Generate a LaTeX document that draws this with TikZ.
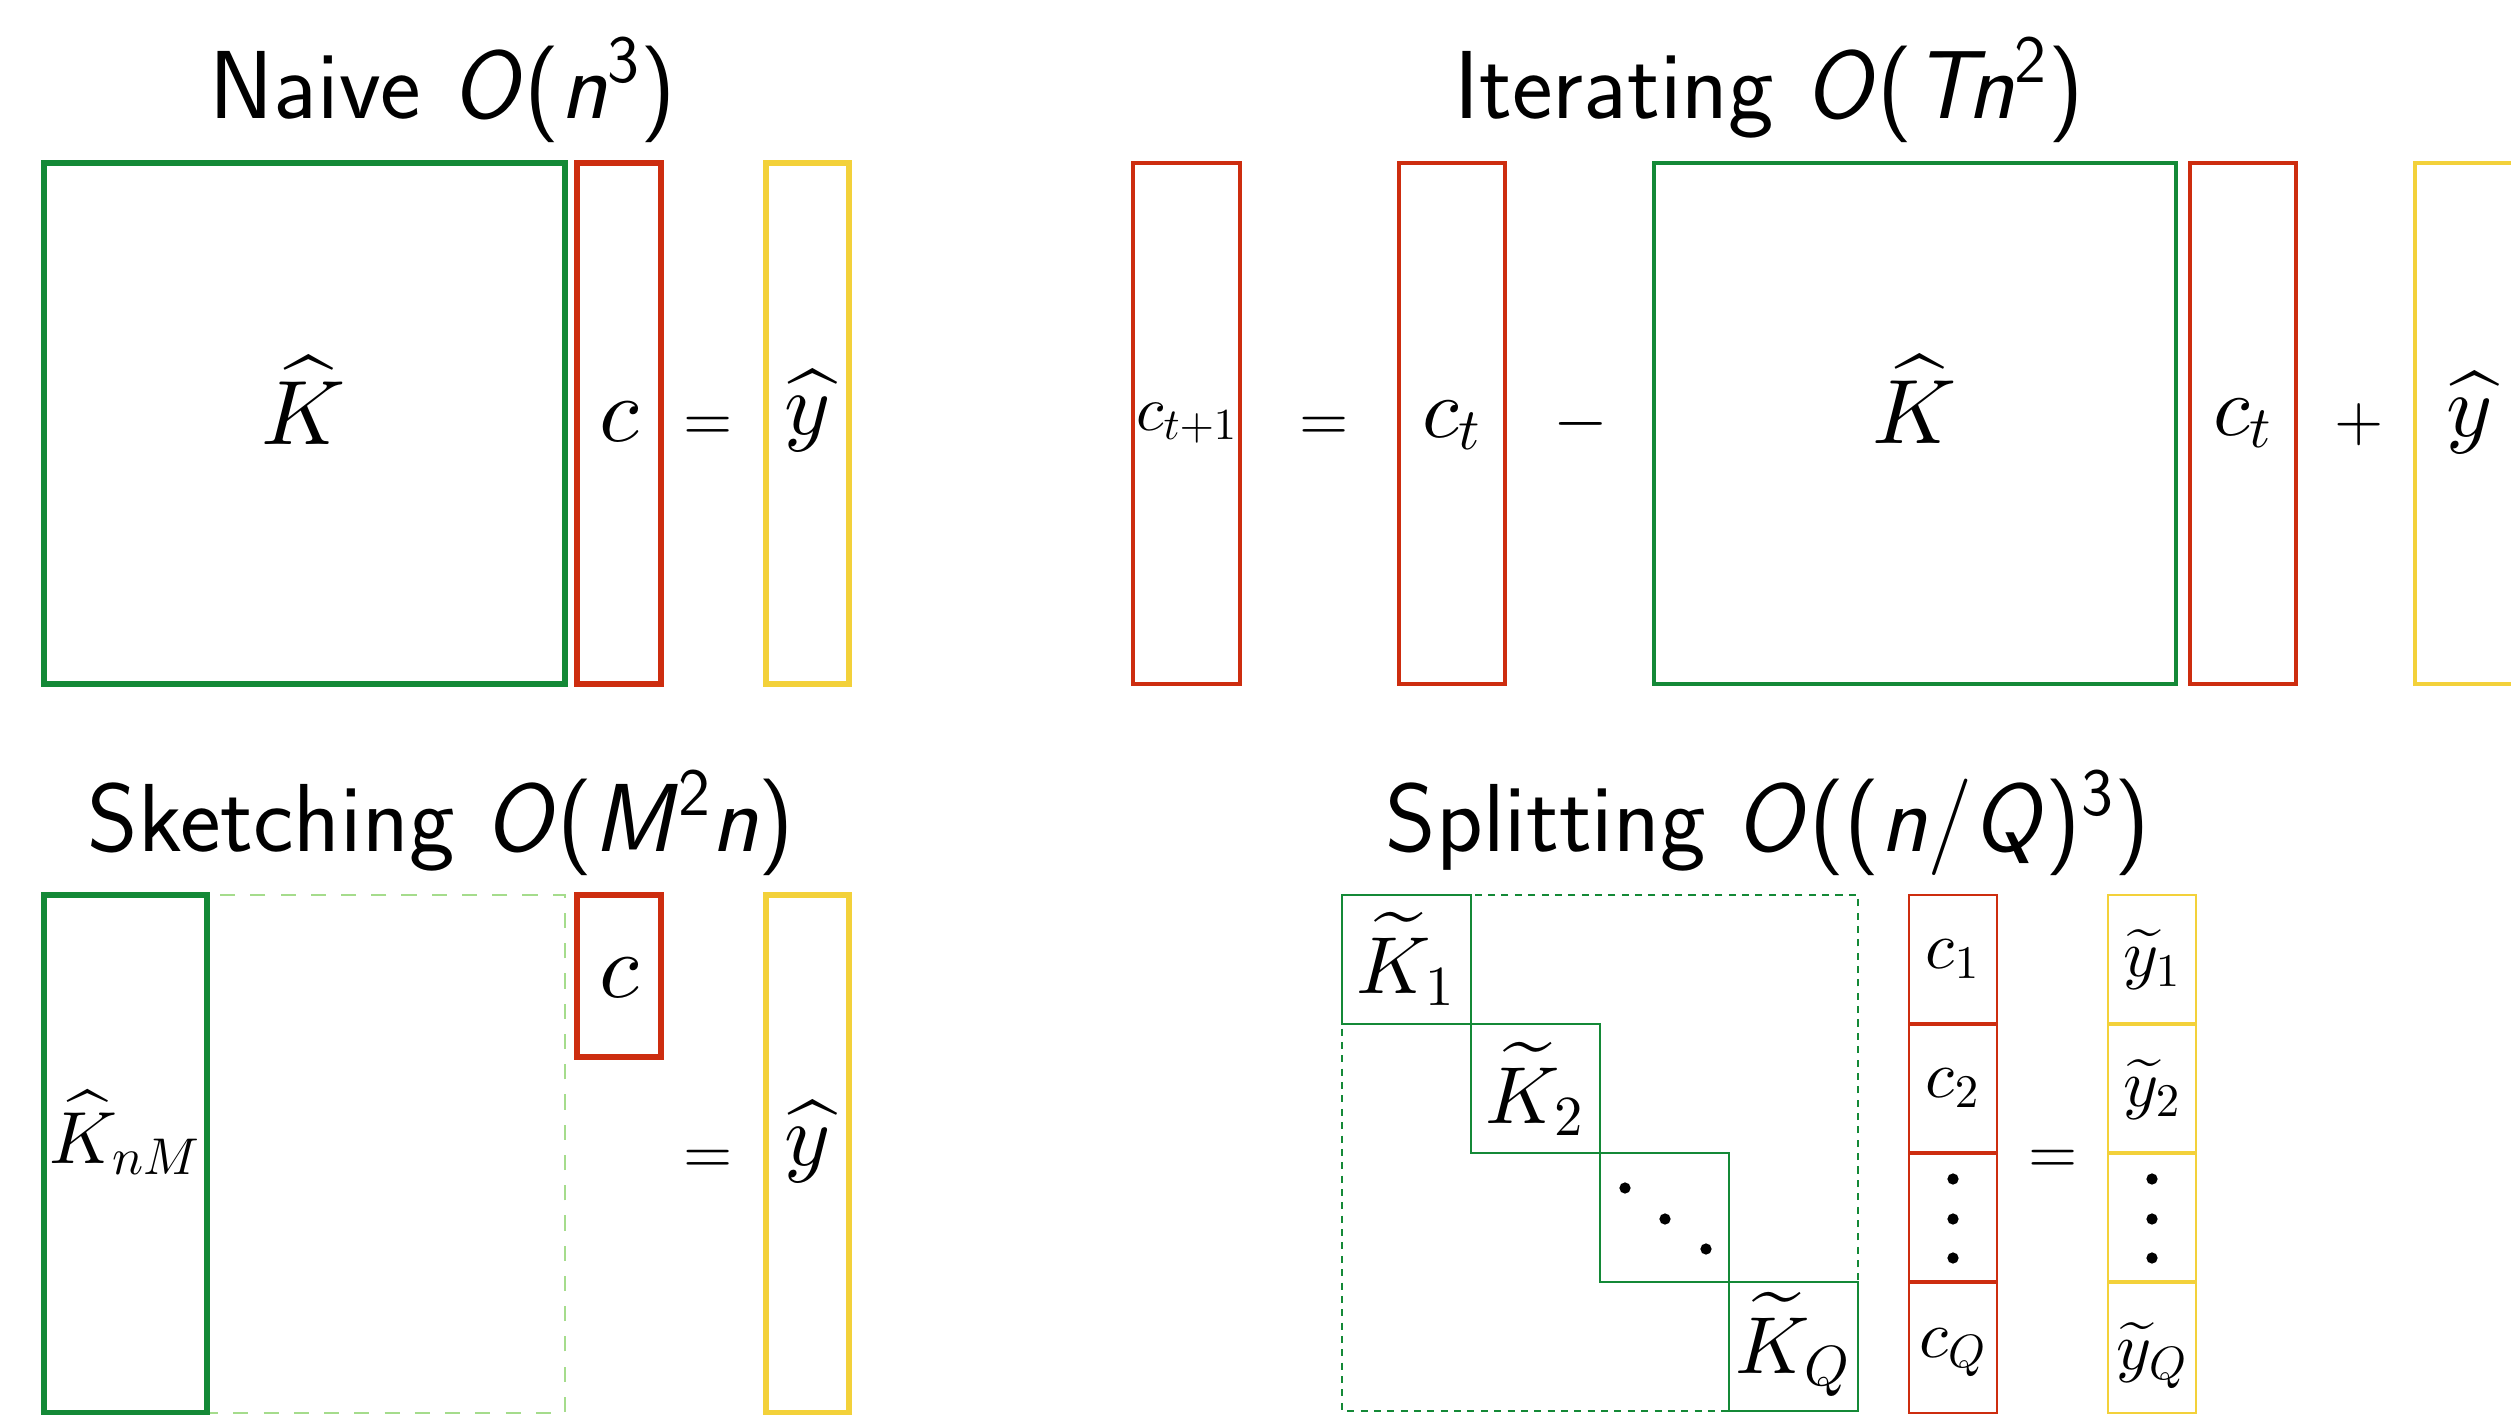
\RequirePackage{fix-cm}
\documentclass[tikz,border=0pt]{standalone}
\usepackage{amsmath}
\DeclareFontFamily{OML}{cmmten}{\skewchar\font=127}
\DeclareFontShape{OML}{cmmten}{m}{it}{<-> cmmi10}{}
\DeclareSymbolFont{letters}{OML}{cmmten}{m}{it}
\DeclareFontFamily{OT1}{cmrten}{\hyphenchar\font=45}
\DeclareFontShape{OT1}{cmrten}{m}{n}{<-> cmr10}{}
\DeclareSymbolFont{operators}{OT1}{cmrten}{m}{n}
\definecolor{kgreen}{RGB}{20,137,55}
\definecolor{kred}{RGB}{205,45,15}
\definecolor{kyellow}{RGB}{243,209,58}
\definecolor{klight}{RGB}{165,220,140}
\newcommand\fsz[1]{\fontsize{#1}{#1}\selectfont}
\tikzset{
  lbl/.style={inner sep=0pt, outer sep=0pt, anchor=base},
  ttl/.style={lbl, font=\fontsize{27.5}{30}\selectfont\sffamily},
  thick naive/.style={line width=1.5pt},
  thin iter/.style={line width=1pt},
  thin split/.style={line width=0.65pt},
  gbox/.style={draw=kgreen},
  rbox/.style={draw=kred},
  ybox/.style={draw=kyellow},
  dotbox/.style={draw=kgreen, line width=0.8pt, dash pattern=on 2pt off 1.8pt},
  dashbox/.style={draw=klight, line width=0.7pt, dash pattern=on 4.3pt off 4.3pt},
  dotmark/.style={fill=black},
}
\begin{document}
\begin{tikzpicture}[x=0.01cm,y=-0.01cm]
\useasboundingbox (0,0) rectangle (2511,1415);
\clip (0,0) rectangle (2511,1415);

% ---------- Naive ----------
\node[ttl] (tnaive) at (443,118) {Naive \textsl{O}(\textsl{n}\textsuperscript{3})};
\draw[gbox, thick naive] (44,163) rectangle (565,684);
\draw[rbox, thick naive] (577,163) rectangle (661,684);
\draw[ybox, thick naive] (766,163) rectangle (849,684);
\node[lbl, font=\fsz{26}] (nK) at (304,444) {$\widehat{K}$};
\node[lbl, font=\fsz{26}] (nc) at (619,441) {$c$};
\node[lbl, font=\fsz{18}] (neq) at (708,440) {$=$};
\node[lbl, font=\fsz{25}] (ny) at (808,434) {$\widehat{y}$};

% ---------- Iterating ----------
\node[ttl] (titer) at (1769,118) {Iterating \textsl{O}(\textsl{Tn}\textsuperscript{2})};
\draw[rbox, thin iter] (1133,163) rectangle (1240,684);
\draw[rbox, thin iter] (1399,163) rectangle (1505,684);
\draw[gbox, thin iter] (1654,163) rectangle (2176,684);
\draw[rbox, thin iter] (2190,163) rectangle (2296,684);
\draw[ybox, thin iter] (2415,163) rectangle (2526,684);
\node[lbl, font=\fsz{18}] (ic1) at (1187,430) {$c_{t+1}$};
\node[lbl, font=\fsz{18}] (ieq) at (1324,440) {$=$};
\node[lbl, font=\fsz{24}] (ic2) at (1452,437) {$c_t$};
\node[lbl, font=\fsz{20}] (iminus) at (1581,441) {$-$};
\node[lbl, font=\fsz{26}] (iK) at (1915,443) {$\widehat{K}$};
\node[lbl, font=\fsz{24}] (ic3) at (2243,435) {$c_t$};
\node[lbl, font=\fsz{18}] (iplus) at (2359,440) {$+$};
\node[lbl, font=\fsz{25}] (iy) at (2470,436) {$\widehat{y}$};

% ---------- Sketching ----------
\node[ttl] (tsketch) at (441,851) {Sketching \textsl{O}(\textsl{M}\textsuperscript{2}\textsl{n})};
\draw[dashbox] (207,895) rectangle (565,1413);
\draw[gbox, thick naive] (44,895) rectangle (207,1413);
\draw[rbox, thick naive] (577,895) rectangle (661,1057);
\draw[ybox, thick naive] (766,895) rectangle (849,1413);
\node[lbl, font=\fsz{21}] (sK) at (125,1163) {$\widehat{K}_{nM}$};
\node[lbl, font=\fsz{26}] (sc) at (619,997) {$c$};
\node[lbl, font=\fsz{18}] (seq) at (708,1173) {$=$};
\node[lbl, font=\fsz{25}] (sy) at (808,1165) {$\widehat{y}$};

% ---------- Splitting ----------
\node[ttl] (tsplit) at (1768,851) {Splitting \textsl{O}((\textsl{n}/\textsl{Q})\textsuperscript{3})};
\draw[dotbox] (1342,895) rectangle (1858,1411);
\draw[gbox, thin split] (1342,895) rectangle (1471,1024);
\draw[gbox, thin split] (1471,1024) rectangle (1600,1153);
\draw[gbox, thin split] (1600,1153) rectangle (1729,1282);
\draw[gbox, thin split] (1729,1282) rectangle (1858,1411);
\node[lbl, font=\fsz{23}] (pK1) at (1406,993) {$\widetilde{K}_1$};
\node[lbl, font=\fsz{23}] (pK2) at (1535,1123) {$\widetilde{K}_2$};
\node[lbl, font=\fsz{23}] (pKQ) at (1793,1373) {$\widetilde{K}_Q$};
\fill[dotmark] (1625,1188) circle[radius=1.6pt];
\fill[dotmark] (1665,1219) circle[radius=1.6pt];
\fill[dotmark] (1706,1249) circle[radius=1.6pt];

\draw[rbox, line width=0.8pt] (1909,895) rectangle (1997,1413);
\draw[rbox, line width=0.9pt] (1909,1024) -- (1997,1024) (1909,1153) -- (1997,1153) (1909,1282) -- (1997,1282);
\draw[ybox, line width=0.8pt] (2108,895) rectangle (2196,1413);
\draw[ybox, line width=0.9pt] (2108,1024) -- (2196,1024) (2108,1153) -- (2196,1153) (2108,1282) -- (2196,1282);
\node[lbl, font=\fsz{19}] (pc1) at (1953,968) {$c_1$};
\node[lbl, font=\fsz{19}] (pc2) at (1953,1097) {$c_2$};
\node[lbl, font=\fsz{19}] (pcQ) at (1953,1357) {$c_Q$};
\foreach \yy in {1179,1219,1258} {
  \fill[dotmark] (1953,\yy) circle[radius=1.6pt];
  \fill[dotmark] (2152,\yy) circle[radius=1.6pt];
}
\node[lbl, font=\fsz{18}] (peq) at (2053,1173) {$=$};
\node[lbl, font=\fsz{19}] (py1) at (2152,976) {$\widetilde{y}_1$};
\node[lbl, font=\fsz{19}] (py2) at (2152,1106) {$\widetilde{y}_2$};
\node[lbl, font=\fsz{19}] (pyQ) at (2152,1369) {$\widetilde{y}_Q$};
\end{tikzpicture}
\end{document}
